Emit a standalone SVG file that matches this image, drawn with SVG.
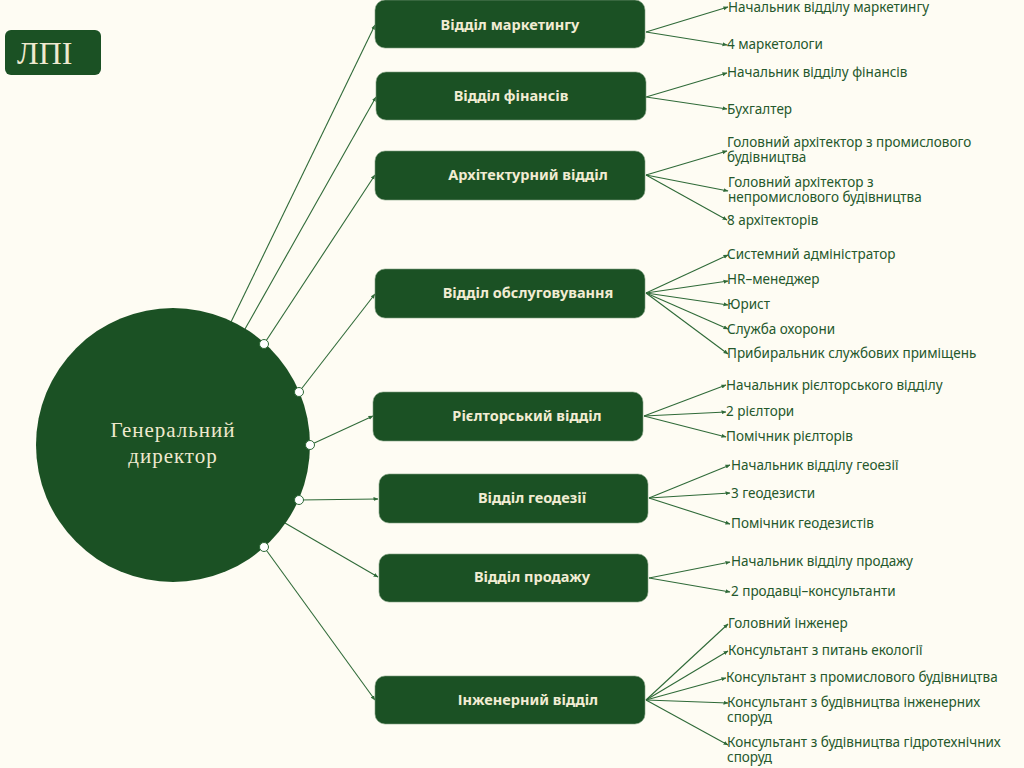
<svg xmlns="http://www.w3.org/2000/svg" width="1024" height="768" viewBox="0 0 1024 768">
<defs>
<marker id="ar" viewBox="0 0 10 10" refX="9" refY="5" markerWidth="5" markerHeight="5" orient="auto" markerUnits="userSpaceOnUse">
<path d="M0,1 L10,5 L0,9 z" fill="#2f6a38"/>
</marker>
<style>
.bg{fill:#fefcf3}
.box{fill:#1b5124;stroke:#7f9f80;stroke-width:0.6}
.dl{font-family:"Noto Sans","Liberation Sans",sans-serif;font-weight:700;font-size:14.5px;fill:#f1ecd3;text-anchor:middle}
.cl{font-family:"Noto Sans","Liberation Sans",sans-serif;font-size:13.5px;fill:#25582c}
.ln{stroke:#2f6a38;stroke-width:1.1;fill:none;marker-end:url(#ar)}
.dot{fill:#ffffff;stroke:#2f6a38;stroke-width:1}
.ser{font-family:"Liberation Serif","DejaVu Serif",serif;fill:#efe9cf}
</style>
</defs>
<rect class="bg" x="0" y="0" width="1024" height="768"/>

<g id="logo">
<rect x="5" y="30" width="96" height="45" rx="6" fill="#1b5124"/>
<text class="ser" x="17" y="64" font-size="32">ЛПІ</text>
</g>

<g id="connectors">
<line class="ln" x1="231" y1="322" x2="375" y2="25"/>
<line class="ln" x1="245" y1="329" x2="376" y2="97"/>
<line class="ln" x1="264" y1="344" x2="375" y2="175"/>
<line class="ln" x1="299" y1="392" x2="375" y2="294"/>
<line class="ln" x1="310" y1="445" x2="373" y2="416"/>
<line class="ln" x1="299" y1="500" x2="378" y2="499"/>
<line class="ln" x1="285" y1="523" x2="378" y2="577"/>
<line class="ln" x1="264" y1="547" x2="375" y2="700"/>

<line class="ln" x1="646" y1="32" x2="728" y2="7"/>
<line class="ln" x1="646" y1="32" x2="727" y2="45"/>

<line class="ln" x1="646" y1="97" x2="727" y2="73"/>
<line class="ln" x1="646" y1="97" x2="727" y2="109"/>

<line class="ln" x1="646" y1="175" x2="727" y2="151"/>
<line class="ln" x1="646" y1="175" x2="728" y2="191"/>
<line class="ln" x1="646" y1="175" x2="727" y2="220"/>

<line class="ln" x1="646" y1="293" x2="728" y2="255"/>
<line class="ln" x1="646" y1="293" x2="728" y2="281"/>
<line class="ln" x1="646" y1="293" x2="728" y2="305"/>
<line class="ln" x1="646" y1="293" x2="728" y2="329"/>
<line class="ln" x1="646" y1="293" x2="728" y2="354"/>

<line class="ln" x1="644" y1="416" x2="726" y2="385"/>
<line class="ln" x1="644" y1="416" x2="726" y2="412"/>
<line class="ln" x1="644" y1="416" x2="726" y2="437"/>

<line class="ln" x1="649" y1="498" x2="730" y2="465"/>
<line class="ln" x1="649" y1="498" x2="730" y2="493"/>
<line class="ln" x1="649" y1="498" x2="730" y2="524"/>

<line class="ln" x1="649" y1="578" x2="730" y2="562"/>
<line class="ln" x1="649" y1="578" x2="730" y2="592"/>

<line class="ln" x1="646" y1="700" x2="728" y2="624"/>
<line class="ln" x1="646" y1="700" x2="728" y2="651"/>
<line class="ln" x1="646" y1="700" x2="726" y2="678"/>
<line class="ln" x1="646" y1="700" x2="728" y2="703"/>
<line class="ln" x1="646" y1="700" x2="728" y2="745"/>
</g>

<g id="director">
<circle cx="173" cy="445" r="137" fill="#1b5124"/>
<text class="ser" x="173" y="437" font-size="21" text-anchor="middle" letter-spacing="1">Генеральний<tspan x="173" dy="26">директор</tspan></text>
<circle class="dot" cx="264" cy="344" r="4.5"/>
<circle class="dot" cx="299" cy="392" r="4.5"/>
<circle class="dot" cx="310" cy="445" r="4.5"/>
<circle class="dot" cx="299" cy="500" r="4.5"/>
<circle class="dot" cx="264" cy="547" r="4.5"/>
</g>

<g id="dept-marketing">
<rect class="box" x="375" y="0" width="270" height="48" rx="10"/>
<text class="dl" x="510" y="30">Відділ маркетингу</text>
<text class="cl" x="728" y="12">Начальник відділу маркетингу</text>
<text class="cl" x="727" y="49">4 маркетологи</text>
</g>

<g id="dept-finance">
<rect class="box" x="376" y="72" width="270" height="48" rx="10"/>
<text class="dl" x="511" y="101">Відділ фінансів</text>
<text class="cl" x="727" y="77">Начальник відділу фінансів</text>
<text class="cl" x="727" y="114">Бухгалтер</text>
</g>

<g id="dept-architecture">
<rect class="box" x="375" y="151" width="270" height="49" rx="10"/>
<text class="dl" x="528" y="180">Архітектурний відділ</text>
<text class="cl" x="727" y="147">Головний архітектор з промислового<tspan x="727" dy="15">будівництва</tspan></text>
<text class="cl" x="728" y="187">Головний архітектор з<tspan x="728" dy="15">непромислового будівництва</tspan></text>
<text class="cl" x="727" y="225">8 архітекторів</text>
</g>

<g id="dept-service">
<rect class="box" x="375" y="269" width="270" height="49" rx="10"/>
<text class="dl" x="528" y="298">Відділ обслуговування</text>
<text class="cl" x="727" y="259">Системний адміністратор</text>
<text class="cl" x="727" y="284">HR–менеджер</text>
<text class="cl" x="727" y="309">Юрист</text>
<text class="cl" x="727" y="334">Служба охорони</text>
<text class="cl" x="727" y="358">Прибиральник службових приміщень</text>
</g>

<g id="dept-realty">
<rect class="box" x="373" y="392" width="270" height="49" rx="10"/>
<text class="dl" x="527" y="421">Рієлторський відділ</text>
<text class="cl" x="726" y="390">Начальник рієлторського відділу</text>
<text class="cl" x="726" y="416">2 рієлтори</text>
<text class="cl" x="726" y="441">Помічник рієлторів</text>
</g>

<g id="dept-geodesy">
<rect class="box" x="379" y="474" width="269" height="49" rx="10"/>
<text class="dl" x="532" y="503">Відділ геодезії</text>
<text class="cl" x="731" y="470">Начальник відділу геоезії</text>
<text class="cl" x="731" y="498">3 геодезисти</text>
<text class="cl" x="731" y="528">Помічник геодезистів</text>
</g>

<g id="dept-sales">
<rect class="box" x="379" y="554" width="269" height="48" rx="10"/>
<text class="dl" x="532" y="582">Відділ продажу</text>
<text class="cl" x="731" y="566">Начальник відділу продажу</text>
<text class="cl" x="731" y="596">2 продавці–консультанти</text>
</g>

<g id="dept-engineering">
<rect class="box" x="375" y="676" width="270" height="48" rx="10"/>
<text class="dl" x="528" y="705">Інженерний відділ</text>
<text class="cl" x="728" y="628">Головний інженер</text>
<text class="cl" x="728" y="655">Консультант з питань екології</text>
<text class="cl" x="726" y="682">Консультант з промислового будівництва</text>
<text class="cl" x="727" y="707">Консультант з будівництва інженерних<tspan x="727" dy="15">споруд</tspan></text>
<text class="cl" x="727" y="747">Консультант з будівництва гідротехнічних<tspan x="727" dy="15">споруд</tspan></text>
</g>
</svg>
